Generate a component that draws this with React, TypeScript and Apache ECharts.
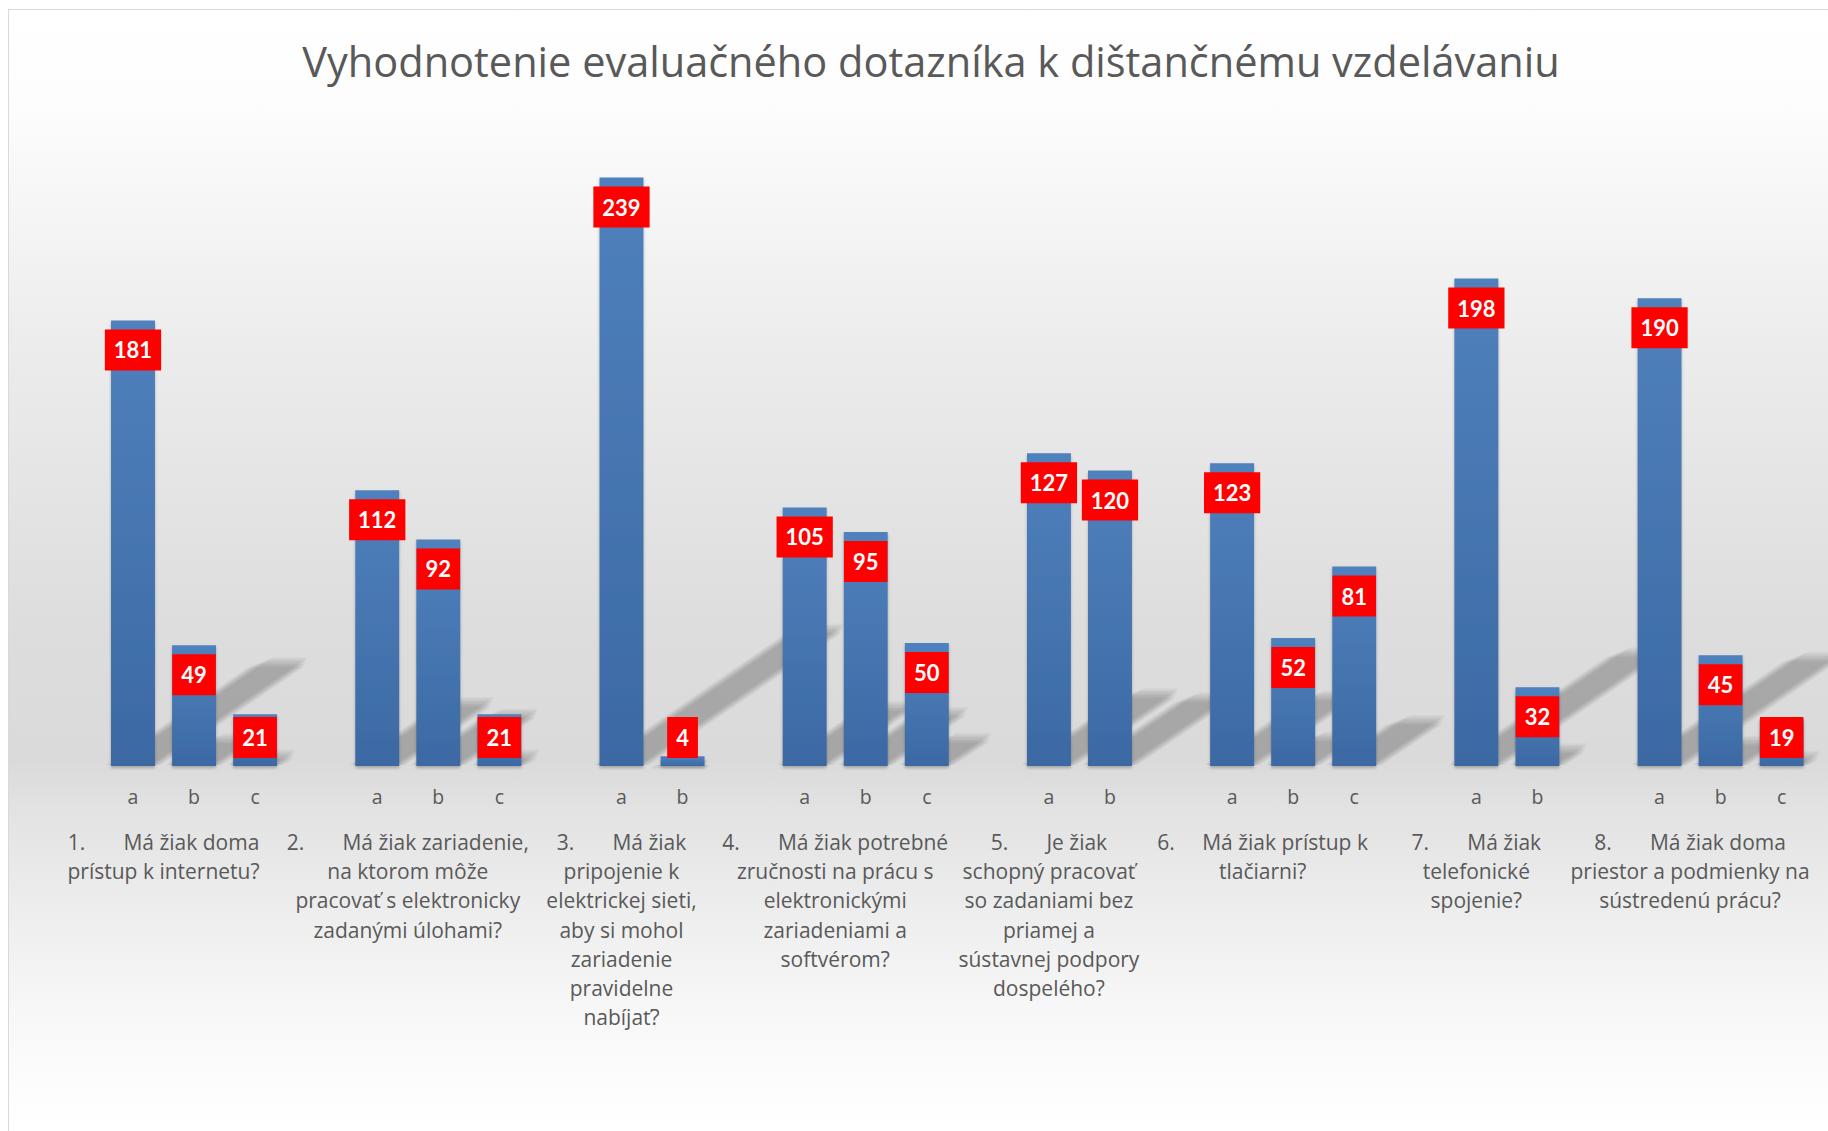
import React, { useEffect, useRef } from "react";
import * as echarts from "echarts";

const TITLE = "Vyhodnotenie evaluačného dotazníka k dištančnému vzdelávaniu";

const TAB = "       ";
const groupLabels: string[] = [
  "1." + TAB + "Má žiak doma\nprístup k internetu?",
  "2." + TAB + "Má žiak zariadenie,\nna ktorom môže\npracovať s elektronicky\nzadanými úlohami?",
  "3." + TAB + "Má žiak\npripojenie k\nelektrickej sieti,\naby si mohol\nzariadenie\npravidelne\nnabíjať?",
  "4." + TAB + "Má žiak potrebné\nzručnosti na prácu s\nelektronickými\nzariadeniami a\nsoftvérom?",
  "5." + TAB + "Je žiak\nschopný pracovať\nso zadaniami bez\npriamej a\nsústavnej podpory\ndospelého?",
  "6.     Má žiak prístup k\ntlačiarni?",
  "7." + TAB + "Má žiak\ntelefonické\nspojenie?",
  "8." + TAB + "Má žiak doma\npriestor a podmienky na\nsústredenú prácu?",
];

const subLabels: string[] = ["a", "b", "c"];

const groupValues: number[][] = [
  [181, 49, 21],
  [112, 92, 21],
  [239, 4],
  [105, 95, 50],
  [127, 120],
  [123, 52, 81],
  [198, 32],
  [190, 45, 19],
];

const Y_MAX = 250;

export default function App() {
  const ref = useRef<HTMLDivElement>(null);

  useEffect(() => {
    if (!ref.current) return;
    const chart = echarts.init(ref.current, null, { renderer: "svg" });

    const categories: string[] = [];
    const values: (number | null)[] = [];
    const groupCenters: number[] = [];
    groupValues.forEach((vals) => {
      const start = categories.length;
      categories.push("");
      values.push(null);
      vals.forEach((v, i) => {
        categories.push(subLabels[i]);
        values.push(v);
      });
      groupCenters.push(start + (1 + vals.length) / 2);
    });

    const shadowData: number[][] = [];
    values.forEach((v, i) => {
      if (v !== null) shadowData.push([i, v]);
    });

    const barRatio = 0.72;
    const blurSteps = [-10, -7.5, -5, -2.5, 0, 2.5, 5, 7.5];

    const renderShadow = (params: any, api: any) => {
      const idx = api.value(0);
      const v = api.value(1);
      const base = api.coord([idx, 0]);
      const top = api.coord([idx, v]);
      const h = base[1] - top[1];
      const bw = api.size([1, 0])[0] * barRatio;
      const xl = base[0] - bw / 2;
      const xr = base[0] + bw / 2;
      const y0 = base[1];
      const dx = 0.34 * h;
      const dy = 0.235 * h;
      const ux = 0.823, uy = 0.568;
      const children = blurSteps.map((k) => ({
        type: "polygon",
        silent: true,
        shape: {
          points: [
            [xl + k * 0.6, y0 - 1],
            [xr - k * 0.6, y0 - 1],
            [xr - k * 0.6 + dx + k * ux, y0 - dy - k * uy],
            [xl + k * 0.6 + dx + k * ux, y0 - dy - k * uy],
          ],
        },
        style: { fill: "rgba(0,0,0,0.03)" },
      }));
      return { type: "group", children };
    };

    const barGradient = new echarts.graphic.LinearGradient(0, 0, 0, 1, [
      { offset: 0, color: "#4f81bd" },
      { offset: 1, color: "#3c69a3" },
    ]);

    const bg = new echarts.graphic.LinearGradient(0, 0, 0, 1, [
      { offset: 0, color: "#ffffff" },
      { offset: 0.08, color: "#fdfdfd" },
      { offset: 0.3, color: "#ececec" },
      { offset: 0.55, color: "#dddddd" },
      { offset: 0.67, color: "#dadada" },
      { offset: 0.71, color: "#e2e2e2" },
      { offset: 0.8, color: "#ededed" },
      { offset: 0.9, color: "#f8f8f8" },
      { offset: 1, color: "#ffffff" },
    ]);

    const option: any = {
      animation: false,
      backgroundColor: bg,
      graphic: [
        {
          type: "text",
          x: 922,
          y: 51,
          style: {
            text: TITLE,
            fill: "#595959",
            font: "400 41.5px 'Open Sans'",
            fontFamily: "Open Sans",
            fontSize: 41.5,
            fontWeight: 400,
            align: "center",
            verticalAlign: "middle",
            textAlign: "center",
            textVerticalAlign: "middle",
          },
        },
      ],
      grid: { left: 32.4, right: 15.8, top: 140.5, bottom: 365 },
      xAxis: [
        {
          type: "category",
          data: categories,
          axisLine: { show: false },
          axisTick: { show: false },
          splitLine: { show: false },
          axisLabel: {
            interval: 0,
            color: "#595959",
            fontFamily: "Open Sans",
            fontSize: 19.5,
            lineHeight: 24,
            margin: 18,
          },
        },
        {
          type: "value",
          min: 0,
          max: categories.length,
          position: "bottom",
          axisLine: { show: false },
          axisTick: { show: false },
          splitLine: { show: false },
          axisLabel: {
            customValues: groupCenters,
            formatter: (v: number) => {
              const gi = groupCenters.findIndex((c) => Math.abs(c - v) < 1e-6);
              return gi >= 0 ? groupLabels[gi] : "";
            },
            color: "#595959",
            fontFamily: "Open Sans",
            fontSize: 21,
            lineHeight: 29.3,
            margin: 61,
            align: "center",
          },
        },
      ],
      yAxis: {
        type: "value",
        min: 0,
        max: Y_MAX,
        show: false,
        splitLine: { show: false },
      },
      series: [
        {
          type: "custom",
          xAxisIndex: 0,
          renderItem: renderShadow,
          data: shadowData,
          encode: { x: 0, y: 1 },
          silent: true,
          z: 1,
        },
        {
          type: "bar",
          xAxisIndex: 0,
          barWidth: barRatio * 100 + "%",
          z: 2,
          itemStyle: {
            color: barGradient,
            shadowBlur: 3,
            shadowOffsetY: 2,
            shadowColor: "rgba(0,0,0,0.25)",
          },
          label: {
            show: true,
            color: "#ffffff",
            fontFamily: "Lato",
            fontWeight: "bold",
            fontSize: 22,
            lineHeight: 41,
            padding: [0, 9],
            backgroundColor: "#ff0000",
            formatter: "{c}",
          },
          data: values.map((v) =>
            v === null
              ? null
              : {
                  value: v,
                  label: {
                    position: v < 24 ? "insideBottom" : "insideTop",
                    distance: v < 24 ? 8 : 9,
                  },
                }
          ),
        },
      ],
    };

    chart.setOption(option);
    return () => chart.dispose();
  }, []);

  return (
    <div
      style={{
        position: "fixed",
        left: 8,
        top: 9,
        width: 1820,
        height: 1122,
        borderLeft: "1px solid #d9d9d9",
        borderTop: "1px solid #d9d9d9",
        boxSizing: "border-box",
      }}
    >
      <div ref={ref} style={{ width: 1819, height: 1121 }} />
    </div>
  );
}
